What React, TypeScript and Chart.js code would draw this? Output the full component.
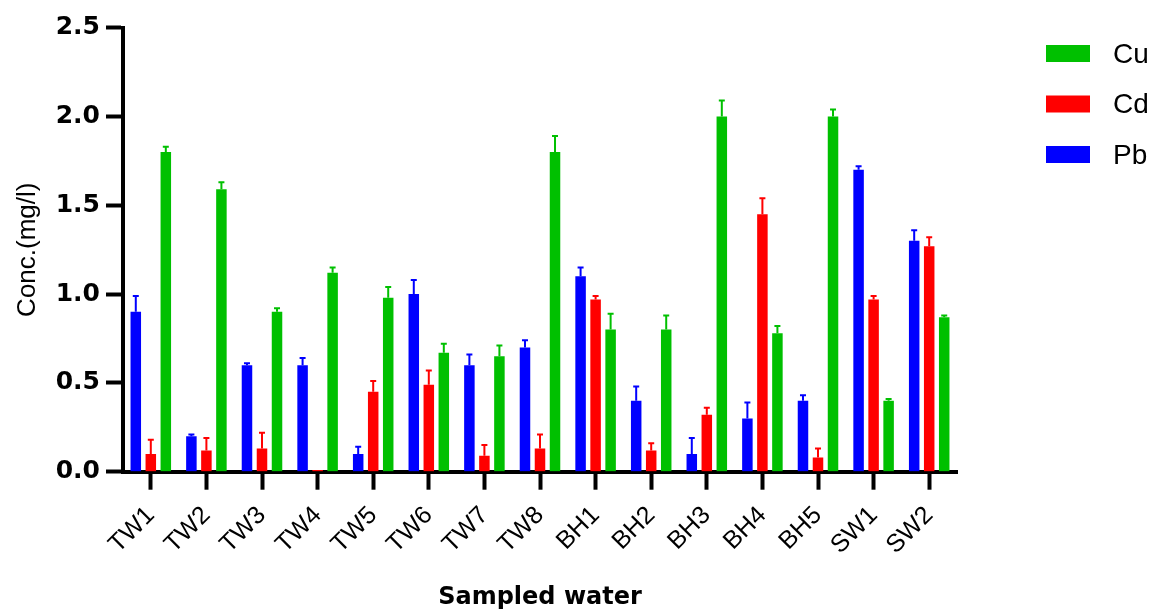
import React, { useEffect, useRef } from "react";
import { Chart, registerables } from "chart.js";

Chart.register(...registerables);

const categories = ["TW1", "TW2", "TW3", "TW4", "TW5", "TW6", "TW7", "TW8", "BH1", "BH2", "BH3", "BH4", "BH5", "SW1", "SW2"];
const pbValues = [0.9, 0.2, 0.6, 0.6, 0.1, 1.0, 0.6, 0.7, 1.1, 0.4, 0.1, 0.3, 0.4, 1.7, 1.3];
const pbErrors = [0.09, 0.01, 0.01, 0.04, 0.04, 0.08, 0.06, 0.04, 0.05, 0.08, 0.09, 0.09, 0.03, 0.02, 0.06];
const cdValues = [0.1, 0.12, 0.13, 0.01, 0.45, 0.49, 0.09, 0.13, 0.97, 0.12, 0.32, 1.45, 0.08, 0.97, 1.27];
const cdErrors = [0.08, 0.07, 0.09, 0, 0.06, 0.08, 0.06, 0.08, 0.02, 0.04, 0.04, 0.09, 0.05, 0.02, 0.05];
const cuValues = [1.8, 1.59, 0.9, 1.12, 0.98, 0.67, 0.65, 1.8, 0.8, 0.8, 2.0, 0.78, 2.0, 0.4, 0.87];
const cuErrors = [0.03, 0.04, 0.02, 0.03, 0.06, 0.05, 0.06, 0.09, 0.09, 0.08, 0.09, 0.04, 0.04, 0.01, 0.01];
const seriesNames = ["Pb", "Cd", "Cu"];
const seriesColors = ["#0000FF", "#FF0000", "#00C000"];
const yMin = 0;
const yMax = 2.5;
const yStep = 0.5;

const errorBarPlugin = {
  id: "errorBars",
  afterDatasetsDraw(chart: any) {
    const ctx = chart.ctx;
    const yScale = chart.scales.y;
    chart.data.datasets.forEach((ds: any, i: number) => {
      const meta = chart.getDatasetMeta(i);
      meta.data.forEach((bar: any, j: number) => {
        const e = ds.errors[j];
        if (!e) return;
        const top = yScale.getPixelForValue(ds.data[j] + e);
        ctx.save();
        ctx.strokeStyle = ds.backgroundColor;
        ctx.lineWidth = 2;
        ctx.beginPath();
        ctx.moveTo(bar.x, bar.y);
        ctx.lineTo(bar.x, top);
        ctx.moveTo(bar.x - 3, top);
        ctx.lineTo(bar.x + 3, top);
        ctx.stroke();
        ctx.restore();
      });
    });
  },
};

const legendPlugin = {
  id: "sideLegend",
  afterDraw(chart: any) {
    const ctx = chart.ctx;
    const dss = chart.data.datasets.slice().reverse();
    ctx.save();
    ctx.font = "28px 'Liberation Sans', Arial, sans-serif";
    ctx.textBaseline = "middle";
    ctx.textAlign = "left";
    dss.forEach((ds: any, k: number) => {
      const cy = 53.5 + k * 50.5;
      ctx.fillStyle = ds.backgroundColor;
      ctx.fillRect(1046, cy - 8.5, 44, 17);
      ctx.fillStyle = "#000";
      ctx.fillText(ds.label, 1113, cy + 1.5);
    });
    ctx.restore();
  },
};

export default function App() {
  const ref = useRef<HTMLCanvasElement>(null);
  useEffect(() => {
    if (!ref.current) return;
    const values = [pbValues, cdValues, cuValues];
    const errors = [pbErrors, cdErrors, cuErrors];
    const chart = new Chart(ref.current, {
      type: "bar",
      data: {
        labels: categories,
        datasets: seriesNames.map((name, i) => ({
          label: name,
          data: values[i],
          errors: errors[i],
          backgroundColor: seriesColors[i],
          borderWidth: 0,
          barPercentage: 0.7,
          categoryPercentage: 0.81,
        })) as any,
      },
      options: {
        responsive: false,
        animation: false,
        devicePixelRatio: 1,
        layout: { padding: { top: 27.7, right: 196, left: 0, bottom: 0 } },
        plugins: { legend: { display: false }, tooltip: { enabled: false } },
        scales: {
          x: {
            grid: {
              display: true,
              drawOnChartArea: false,
              drawTicks: true,
              tickLength: 18,
              tickWidth: 4,
              tickColor: "#000",
              offset: false,
            },
            border: { display: true, width: 4, color: "#000" },
            ticks: {
              autoSkip: false,
              maxRotation: 45,
              minRotation: 45,
              padding: 11,
              color: "#000",
              font: { family: "'Liberation Sans', Arial, sans-serif", size: 25 },
            },
            title: {
              display: true,
              text: "Sampled water",
              color: "#000",
              font: { family: "'DejaVu Sans', sans-serif", size: 24, weight: "bold" },
              padding: { top: 0, bottom: 1 },
            },
            afterFit(scale: any) {
              scale.height = 141.3;
            },
          },
          y: {
            min: yMin,
            max: yMax,
            grid: {
              display: true,
              drawOnChartArea: false,
              drawTicks: true,
              tickLength: 17,
              tickWidth: 4,
              tickColor: "#000",
            },
            border: { display: true, width: 4, color: "#000" },
            ticks: {
              stepSize: yStep,
              padding: 6,
              color: "#000",
              font: { family: "'DejaVu Sans', sans-serif", size: 25, weight: "bold" },
              callback: (v: any) => Number(v).toFixed(1),
            },
            title: {
              display: true,
              text: "Conc.(mg/l)",
              color: "#000",
              font: { family: "'Liberation Sans', Arial, sans-serif", size: 26 },
              padding: { top: 12, bottom: 0 },
            },
            afterFit(scale: any) {
              scale.width = 123;
            },
          },
        },
      },
      plugins: [errorBarPlugin, legendPlugin],
    });
    return () => chart.destroy();
  }, []);
  return (
    <div style={{ position: "fixed", left: 0, top: 0, width: 1153, height: 613, background: "#fff" }}>
      <canvas ref={ref} width={1153} height={613} style={{ display: "block" }} />
    </div>
  );
}
